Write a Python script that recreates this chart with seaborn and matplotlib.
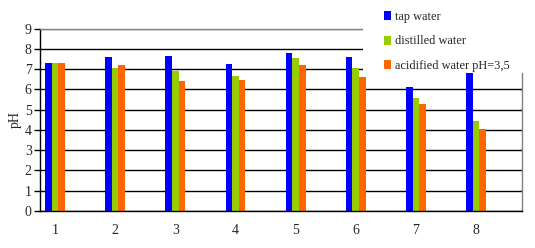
import matplotlib
matplotlib.use("Agg")
import matplotlib.pyplot as plt
from matplotlib.patches import Rectangle
import seaborn as sns
import pandas as pd

samples = ["1", "2", "3", "4", "5", "6", "7", "8"]
tap_water = [7.3, 7.6, 7.65, 7.26, 7.8, 7.6, 6.12, 6.8]
distilled_water = [7.3, 7.06, 6.9, 6.66, 7.55, 7.06, 5.58, 4.44]
acidified_water = [7.3, 7.2, 6.43, 6.47, 7.2, 6.6, 5.28, 4.05]
series_names = ["tap water", "distilled water", "acidified water pH=3,5"]
colors = ["#0000FF", "#99CC00", "#FF6600"]

rows = []
for name, vals in zip(series_names, [tap_water, distilled_water, acidified_water]):
    for s, v in zip(samples, vals):
        rows.append({"sample": s, "pH": v, "water": name})
df = pd.DataFrame(rows)

sns.set_style("white")
plt.rcParams["font.family"] = ["Liberation Serif", "DejaVu Serif"]

W, H = 535, 248
fig = plt.figure(figsize=(W / 100, H / 100), dpi=100)
ax = fig.add_axes([40 / W, (H - 211) / H, (522 - 40) / W, (211 - 28.7) / H])

sns.barplot(data=df, x="sample", y="pH", hue="water", palette=colors,
            hue_order=series_names, order=samples, width=0.33,
            saturation=1, linewidth=0, ax=ax, legend=False)

ax.set_ylim(0, 9)
ax.set_yticks(range(0, 10))
ax.set_xlim(-0.25, 7.765)
ax.set_axisbelow(True)
ax.yaxis.grid(True, color="black", linewidth=1)
for i, gl in enumerate(ax.get_ygridlines()):
    if i == 9:
        gl.set_color("#808080")
ax.xaxis.grid(False)

ax.tick_params(axis="y", length=4, width=1, color="black", labelsize=10, pad=2, left=True)
ax.tick_params(axis="x", length=0, labelsize=10, pad=9.5)
ax.set_xlabel("")
ax.set_ylabel("pH", fontsize=10, labelpad=2)

for side in ["left", "bottom"]:
    ax.spines[side].set_color("black")
    ax.spines[side].set_linewidth(1)
for side in ["top", "right"]:
    ax.spines[side].set_color("#808080")
    ax.spines[side].set_linewidth(1)
    ax.spines[side].set_visible(True)

# white background behind the legend area (covers gridlines, as in the original)
fig.patches.append(Rectangle((363 / W, (H - 73) / H), (W - 363) / W, 73 / H,
                             transform=fig.transFigure, facecolor="white",
                             edgecolor="none", zorder=1))

handles = [Rectangle((0, 0), 1, 1, facecolor=c, edgecolor="none") for c in colors]
leg = fig.legend(handles, series_names, loc="upper left",
                 bbox_to_anchor=(384 / W, 1 - 11 / H), bbox_transform=fig.transFigure,
                 borderaxespad=0, borderpad=0, frameon=False, fontsize=8.9,
                 handlelength=0.6, handleheight=0.75, handletextpad=0.3,
                 labelspacing=1.0)
leg.set_zorder(10)

fig.savefig("out.png", dpi=100)
